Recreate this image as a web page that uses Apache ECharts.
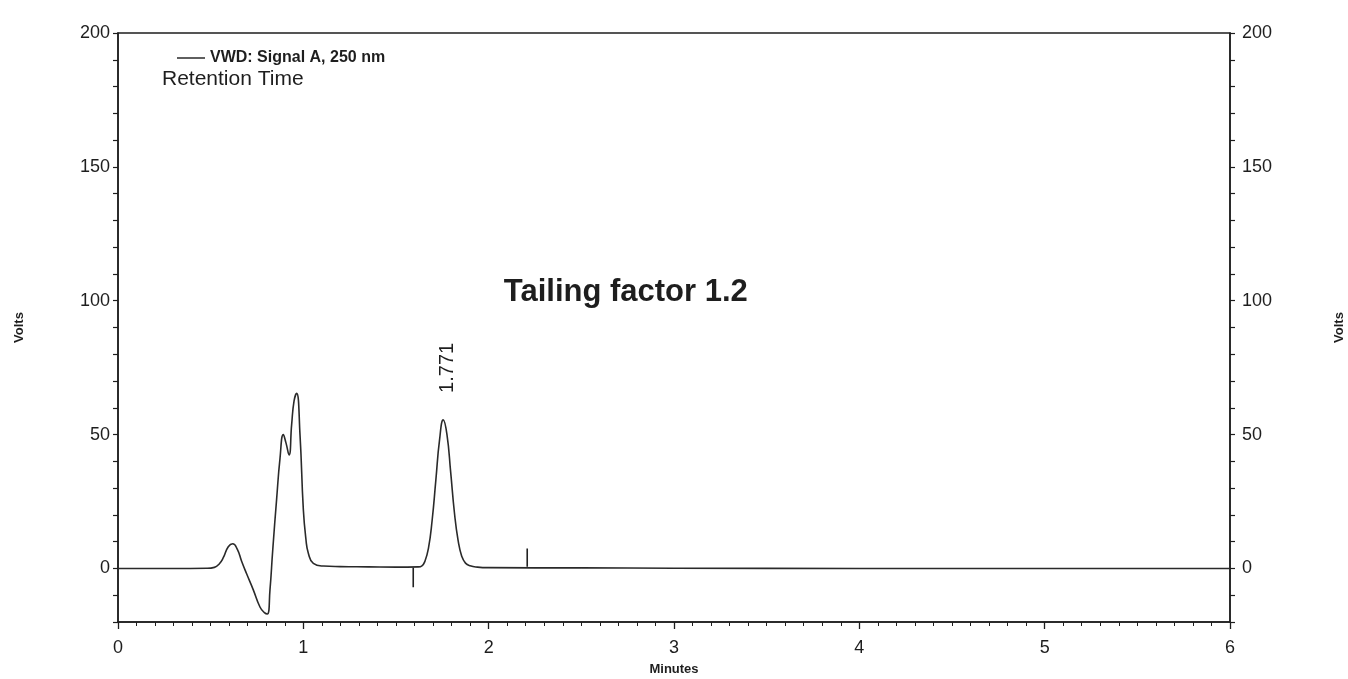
<!DOCTYPE html>
<html><head><meta charset="utf-8">
<script src="https://cdn.jsdelivr.net/npm/echarts@6/dist/echarts.min.js"></script>
<style>html,body{margin:0;padding:0;background:#fff}#c{width:1348px;height:679px}</style>
</head><body><div id="c"></div>
<script>
// ---- data ----
const signalTime  = [0, 0.3, 0.48, 0.52, 0.545, 0.568, 0.595, 0.619, 0.644, 0.667, 0.694, 0.730, 0.766, 0.790, 0.806, 0.820, 0.835, 0.856, 0.874, 0.892, 0.906, 0.923, 0.937, 0.950, 0.964, 0.982, 1.000, 1.014, 1.027, 1.054, 1.108, 1.2, 1.35, 1.5, 1.62, 1.64, 1.655, 1.675, 1.695, 1.715, 1.735, 1.755, 1.775, 1.795, 1.815, 1.835, 1.855, 1.875, 1.90, 1.94, 2.0, 2.5, 3, 4, 5, 6];
const signalVolts = [0, 0, 0.05, 0.4, 1.6, 4.0, 8.1, 9.2, 7.1, 2.7, -2, -8, -14.4, -16.5, -17, -8, 7, 26, 41, 50, 47, 42.4, 53.8, 62.6, 65.4, 50, 22, 10.9, 5.7, 1.9, 0.9, 0.7, 0.6, 0.5, 0.6, 1.0, 2.5, 7.5, 18, 33, 48, 55.5, 50, 36, 21, 10.5, 4.5, 2.0, 1.0, 0.5, 0.3, 0.2, 0.1, 0, 0, 0];
const eventTickTimes  = [1.593, 2.208];
const eventTickStarts = [0.4, 0.6];
const eventTickEnds   = [-7, 7.5];
const peakApex = [1.755, 55.5];
const peakLabel = '1.771';
const seriesName = 'VWD: Signal A, 250 nm';
const subTitle = 'Retention Time';
const noteText = 'Tailing factor 1.2';
const xName = 'Minutes';
const yName = 'Volts';
const xMin = 0, xMax = 6, xStep = 1;
const yMin = -20, yMax = 200, yStep = 10, yLabelStep = 50;

const signal = signalTime.map((t, i) => [t, signalVolts[i]]);
const tickSeries = eventTickTimes.map((t, i) => ({
  name: 'event' + i, type: 'line', xAxisIndex: 0, yAxisIndex: 0,
  data: [[t, eventTickStarts[i]], [t, eventTickEnds[i]]],
  symbol: 'none', lineStyle: { color: '#222', width: 1.6 }, silent: true, z: 3
}));

const FONT = 'Liberation Sans, Arial, sans-serif';
const INK = '#1e1e1e';

function yAxisDef(pos, gap) {
  return {
    type: 'value', position: pos, min: yMin, max: yMax, interval: yStep,
    name: yName, nameLocation: 'middle', nameGap: gap, nameRotate: 90,
    nameTextStyle: { fontFamily: FONT, fontSize: 13, fontWeight: 'bold', color: INK },
    axisLine: { show: true, onZero: false, lineStyle: { color: INK, width: 1.5 } },
    axisTick: { show: true, length: 5, inside: false, lineStyle: { color: INK, width: 1.2 } },
    axisLabel: { fontFamily: FONT, fontSize: 18, color: INK, margin: pos === 'left' ? 8 : 12,
      formatter: v => (v % yLabelStep === 0 ? String(v) : '') },
    splitLine: { show: false }
  };
}

const chart = echarts.init(document.getElementById('c'), null, { renderer: 'canvas' });
chart.setOption({
  animation: false,
  backgroundColor: '#fff',
  grid: { left: 118, right: 118, top: 33, bottom: 57, show: true, borderColor: INK, borderWidth: 1.5,
          containLabel: false, outerBoundsMode: 'none' },
  legend: {
    data: [seriesName], left: 172, top: 45, icon: 'rect', itemWidth: 28, itemHeight: 1.5, itemGap: 8,
    textStyle: { fontFamily: FONT, fontSize: 16, fontWeight: 'bold', color: INK }, selectedMode: false
  },
  xAxis: {
    type: 'value', min: xMin, max: xMax, interval: xStep,
    name: xName, nameLocation: 'middle', nameGap: 41,
    nameTextStyle: { fontFamily: FONT, fontSize: 13, fontWeight: 'bold', color: INK },
    axisLine: { show: true, onZero: false, lineStyle: { color: INK, width: 1.5 } },
    axisTick: { show: true, length: 7, lineStyle: { color: INK, width: 1.3 } },
    minorTick: { show: true, splitNumber: 10, length: 4, lineStyle: { color: INK, width: 1 } },
    axisLabel: { fontFamily: FONT, fontSize: 18, color: INK, margin: 17 },
    splitLine: { show: false }, minorSplitLine: { show: false }
  },
  yAxis: [yAxisDef('left', 92), yAxisDef('right', 103)],
  series: [{
    name: seriesName, type: 'line', data: signal, xAxisIndex: 0, yAxisIndex: 0,
    symbol: 'none', smooth: 0.5,
    lineStyle: { color: '#2a2a2a', width: 1.6 }, itemStyle: { color: '#2a2a2a' }, z: 4
  }].concat(tickSeries)
});

const apex = chart.convertToPixel({ xAxisIndex: 0, yAxisIndex: 0 }, peakApex);
const center = chart.convertToPixel({ xAxisIndex: 0, yAxisIndex: 0 }, [2.74, 103]);
chart.setOption({
  graphic: [
    { type: 'text', left: 162, top: 69, style: { text: subTitle, fontFamily: FONT, fontSize: 21, fill: INK } },
    { type: 'text', x: center[0], y: center[1], style: { text: noteText, fontFamily: FONT, fontSize: 31, fontWeight: 'bold', fill: INK, align: 'center', verticalAlign: 'middle' } },
    { type: 'text', x: apex[0] + 4, y: apex[1] - 52, rotation: Math.PI / 2, style: { text: peakLabel, fontFamily: FONT, fontSize: 20, fill: INK, align: 'center', verticalAlign: 'middle' } }
  ]
});
</script></body></html>
